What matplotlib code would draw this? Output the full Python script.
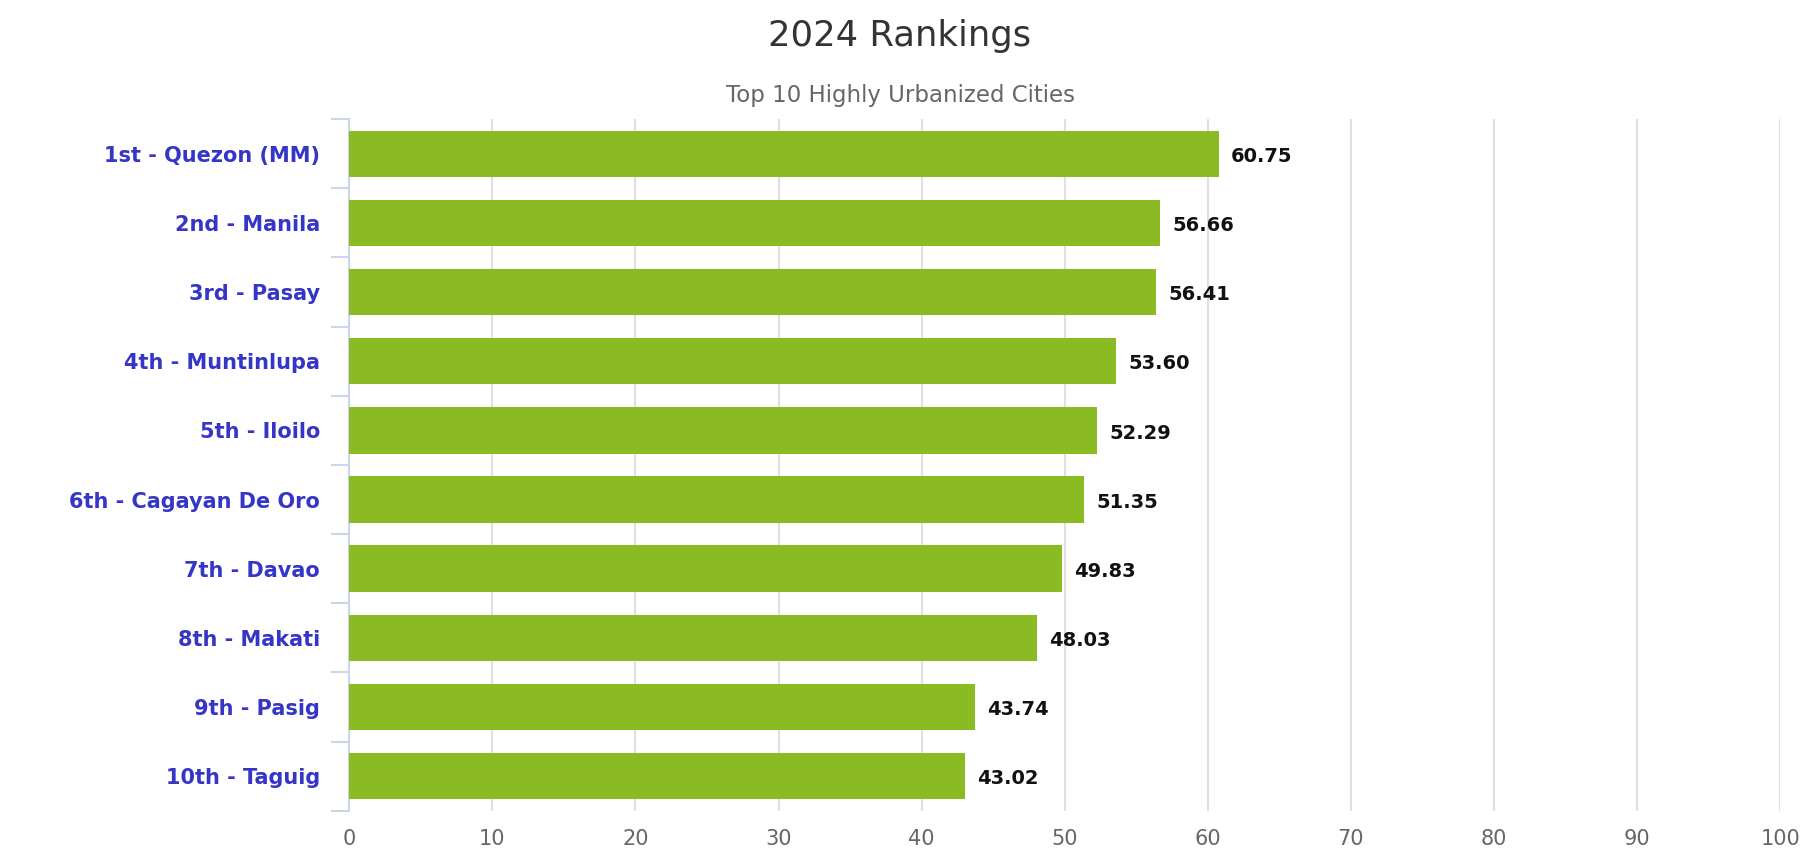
import matplotlib
matplotlib.use("Agg")
import matplotlib.pyplot as plt
import numpy as np

# data
cities = ["1st - Quezon (MM)", "2nd - Manila", "3rd - Pasay", "4th - Muntinlupa",
          "5th - Iloilo", "6th - Cagayan De Oro", "7th - Davao", "8th - Makati",
          "9th - Pasig", "10th - Taguig"]
scores = [60.75, 56.66, 56.41, 53.60, 52.29, 51.35, 49.83, 48.03, 43.74, 43.02]
xticks = [0, 10, 20, 30, 40, 50, 60, 70, 80, 90, 100]

plt.rcParams['font.family'] = ['DejaVu Sans']

fig = plt.figure(figsize=(18, 8.57), dpi=100)
ax = fig.add_axes([0.194, 0.054, 0.795, 0.807])

y = np.arange(len(cities))
ax.barh(y, scores, height=0.67, color="#8bbb23", zorder=3)

for yi, v in zip(y, scores):
    ax.text(v + 0.85, yi + 0.04, "%.2f" % v, va="center", ha="left",
            fontsize=14, fontweight="bold", color="#111111", zorder=4)

ax.set_xlim(0, 100)
ax.set_ylim(len(cities) - 0.5, -0.5)
ax.set_xticks(xticks)
ax.set_xticklabels([str(t) for t in xticks], fontsize=15, color="#666666")
ax.set_yticks(y)
ax.set_yticklabels(cities, fontsize=15, fontweight="bold", color="#3535c8")
ax.set_yticks(np.arange(-0.5, len(cities), 1.0), minor=True)
ax.tick_params(axis="y", which="major", length=0, pad=21)
ax.tick_params(axis="y", which="minor", length=13, color="#ccd6eb", width=1.5)
ax.tick_params(axis="x", length=0, pad=13)

ax.grid(axis="x", color="#e0e0e0", linewidth=1.5, zorder=0)
for s in ["top", "right", "bottom"]:
    ax.spines[s].set_visible(False)
ax.spines["left"].set_color("#ccd6eb")
ax.spines["left"].set_linewidth(1.5)

fig.text(0.5, 0.958, "2024 Rankings", ha="center", va="center",
         fontsize=25.5, color="#333333")
fig.text(0.5, 0.888, "Top 10 Highly Urbanized Cities", ha="center", va="center",
         fontsize=16.5, color="#666666")

fig.savefig("out.png", dpi=100)
